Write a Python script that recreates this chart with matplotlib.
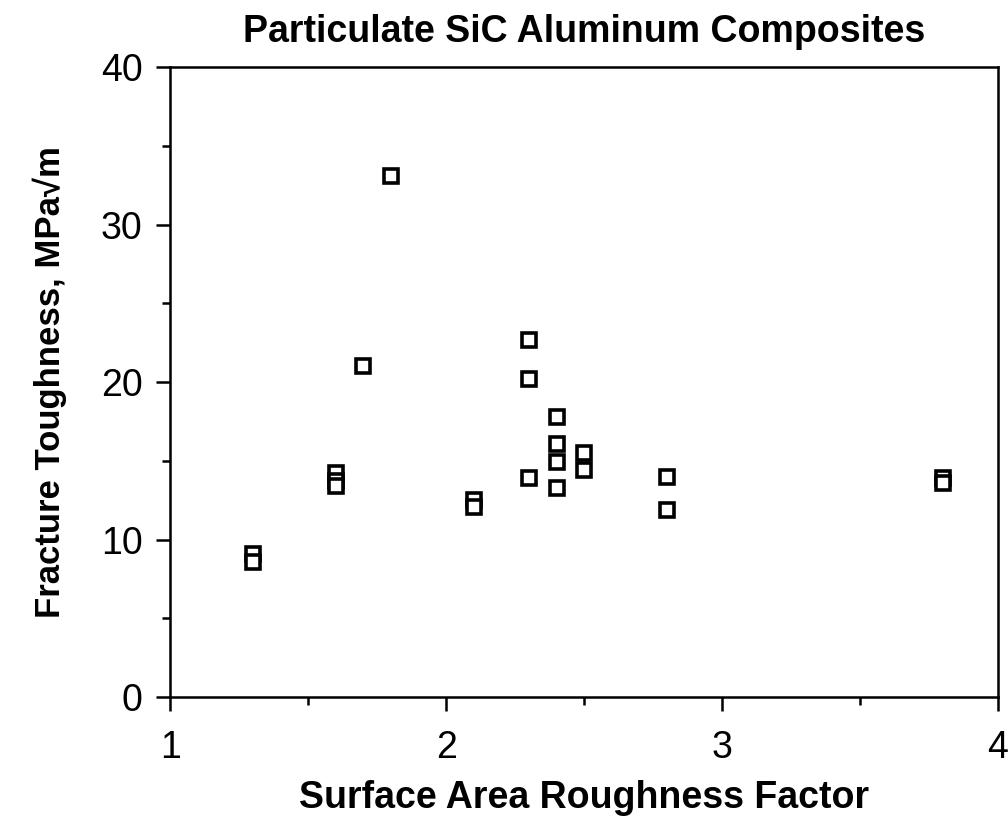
import matplotlib
matplotlib.use('Agg')
import matplotlib.pyplot as plt
from matplotlib.ticker import MultipleLocator

# Datos
rugosidad = [1.3, 1.3, 1.6, 1.6, 1.6, 1.7, 1.8, 2.1, 2.1,
             2.3, 2.3, 2.3, 2.4, 2.4, 2.4, 2.4, 2.5, 2.5,
             2.8, 2.8, 3.8, 3.8]
tenacidad = [9.1, 8.6, 14.2, 13.7, 13.4, 21.0, 33.1, 12.5, 12.1,
             22.7, 20.2, 13.9, 17.8, 16.1, 14.9, 13.3, 15.5, 14.4,
             14.0, 11.9, 13.9, 13.6]

x_ticks = [1, 2, 3, 4]
y_ticks = [0, 10, 20, 30, 40]

plt.rcParams['font.family'] = ['Liberation Sans', 'DejaVu Sans']

fig = plt.figure(figsize=(10.08, 8.27), dpi=100)
ax = fig.add_axes([0.169, 0.157, 0.821, 0.762])

ax.plot(rugosidad, tenacidad, linestyle='none', marker='s', markersize=9.5,
        markerfacecolor='white', markeredgecolor='black', markeredgewidth=2.6)

ax.set_xlim(1, 4)
ax.set_ylim(0, 40)
ax.set_xticks(x_ticks)
ax.set_yticks(y_ticks)
ax.xaxis.set_minor_locator(MultipleLocator(0.5))
ax.yaxis.set_minor_locator(MultipleLocator(5))

ax.tick_params(which='major', direction='out', length=10, width=1.8,
               labelsize=27, color='black')
ax.tick_params(axis='x', which='major', pad=14)
ax.tick_params(axis='y', which='major', pad=10)
ax.tick_params(which='minor', direction='out', length=6, width=1.8)
for s in ax.spines.values():
    s.set_linewidth(1.8)

ax.set_title("Particulate SiC Aluminum Composites", fontsize=27,
             fontweight='bold', pad=18)
ax.set_xlabel("Surface Area Roughness Factor", fontsize=27,
              fontweight='bold', labelpad=10)
ax.set_ylabel("Fracture Toughness, MPa\u221am", fontsize=25,
              fontweight='bold', labelpad=24)

fig.savefig('out.png', dpi=100)
